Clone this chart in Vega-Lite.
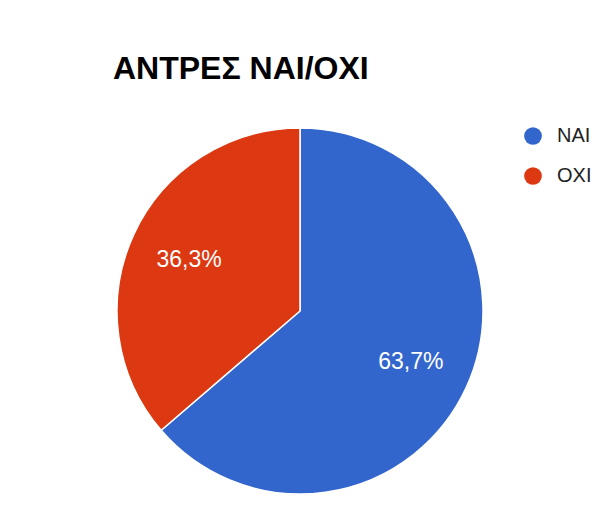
{
  "$schema": "https://vega.github.io/schema/vega-lite/v6.json",
  "width": 588,
  "height": 408,
  "autosize": {"type": "none"},
  "padding": {"left": 6, "top": 107, "right": 0, "bottom": 0},
  "background": "white",
  "config": {
    "view": {"stroke": null},
    "locale": {"number": {"decimal": ",", "thousands": ".", "grouping": [3], "currency": ["", "€"]}}
  },
  "title": {
    "text": "ΑΝΤΡΕΣ ΝΑΙ/ΟΧΙ",
    "anchor": "start",
    "frame": "group",
    "font": "Liberation Sans",
    "fontSize": 32,
    "fontWeight": "bold",
    "color": "#000000",
    "baseline": "alphabetic",
    "offset": 0,
    "dx": 107,
    "dy": 4
  },
  "data": {
    "values": [
      {"answer": "ΝΑΙ", "share": 0.637},
      {"answer": "ΟΧΙ", "share": 0.363}
    ]
  },
  "encoding": {
    "theta": {"field": "share", "type": "quantitative", "stack": true},
    "color": {
      "field": "answer",
      "type": "nominal",
      "scale": {"domain": ["ΝΑΙ", "ΟΧΙ"], "range": ["#3366CC", "#DC3912"]},
      "legend": {
        "title": null,
        "orient": "none",
        "legendX": 517,
        "legendY": 19,
        "padding": 0,
        "symbolType": "circle",
        "symbolSize": 314,
        "symbolStrokeWidth": 0,
        "rowPadding": 20,
        "labelOffset": 14,
        "labelFont": "Liberation Sans",
        "labelFontSize": 20,
        "labelColor": "#222222"
      }
    }
  },
  "layer": [
    {
      "mark": {"type": "arc", "outerRadius": 183, "stroke": "white", "strokeWidth": 1.5}
    },
    {
      "mark": {"type": "text", "radius": 122, "font": "Liberation Sans", "fontSize": 23, "fill": "white", "align": "center", "baseline": "middle"},
      "encoding": {
        "text": {"field": "share", "type": "quantitative", "format": ".1%"},
        "color": {"field": "answer", "type": "nominal", "legend": null}
      }
    }
  ]
}
